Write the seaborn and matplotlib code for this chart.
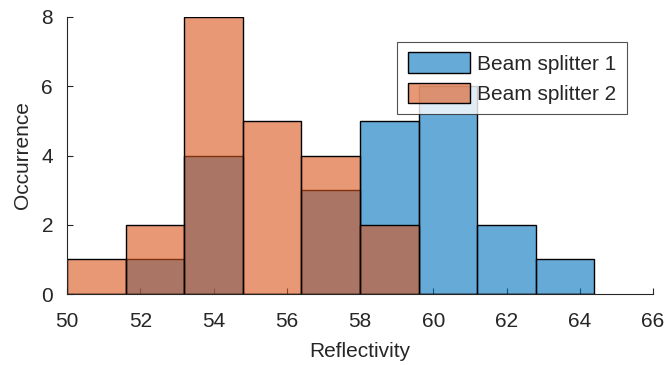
import matplotlib
matplotlib.use("Agg")
import matplotlib.pyplot as plt
import seaborn as sns
import pandas as pd

bin_edges = [50.0, 51.6, 53.2, 54.8, 56.4, 58.0, 59.6, 61.2, 62.8, 64.4]
bin_centers = [50.8, 52.4, 54.0, 55.6, 57.2, 58.8, 60.4, 62.0, 63.6]
counts_bs1 = [0, 1, 4, 0, 3, 5, 6, 2, 1]
counts_bs2 = [1, 2, 8, 5, 4, 2, 0, 0, 0]
series_names = ["Beam splitter 1", "Beam splitter 2"]
x_ticks = [50, 52, 54, 56, 58, 60, 62, 64, 66]
y_ticks = [0, 2, 4, 6, 8]

sns.set_theme(style="white")
plt.rcParams["font.family"] = ["Liberation Sans", "DejaVu Sans"]

fig = plt.figure(figsize=(6.64, 3.65), dpi=100)
ax = fig.add_axes([67/664, 1 - 294/365, 586/664, 277/365])

colors = [(0.0, 0.447, 0.741), (0.85, 0.325, 0.098)]
for name, counts, col in zip(series_names, [counts_bs1, counts_bs2], colors):
    df = pd.DataFrame({"x": bin_centers, "w": counts})
    sns.histplot(data=df, x="x", weights="w", bins=bin_edges, ax=ax,
                 color=col, alpha=0.6, edgecolor="black", linewidth=1.0,
                 label=name, zorder=2)

ax.set_xlim(50, 66)
ax.set_ylim(0, 8)
ax.set_xticks(x_ticks)
ax.set_yticks(y_ticks)
ax.set_axisbelow(True)
ax.tick_params(axis="both", direction="in", length=4.5, width=0.8,
               colors="#262626", labelsize=15, left=True, bottom=True)
ax.tick_params(axis="x", pad=13)
ax.tick_params(axis="y", pad=10)
ax.tick_params(axis="both", labelcolor="#262626")
for s in ["top", "right"]:
    ax.spines[s].set_visible(False)
for s in ["left", "bottom"]:
    ax.spines[s].set_color("#262626")
    ax.spines[s].set_linewidth(0.8)
ax.set_xlabel("Reflectivity", fontsize=15, color="#262626", labelpad=8)
ax.set_ylabel("Occurrence", fontsize=15, color="#262626", labelpad=7)

leg = ax.legend(loc="upper right", bbox_to_anchor=(0.9556, 0.9097), fontsize=15,
                frameon=True, fancybox=False, edgecolor="#262626",
                handlelength=3.0, handleheight=1.15, handletextpad=0.35,
                borderpad=0.5, labelspacing=0.42, borderaxespad=0)
leg.get_frame().set_linewidth(0.8)

fig.savefig("out.png", dpi=100)
